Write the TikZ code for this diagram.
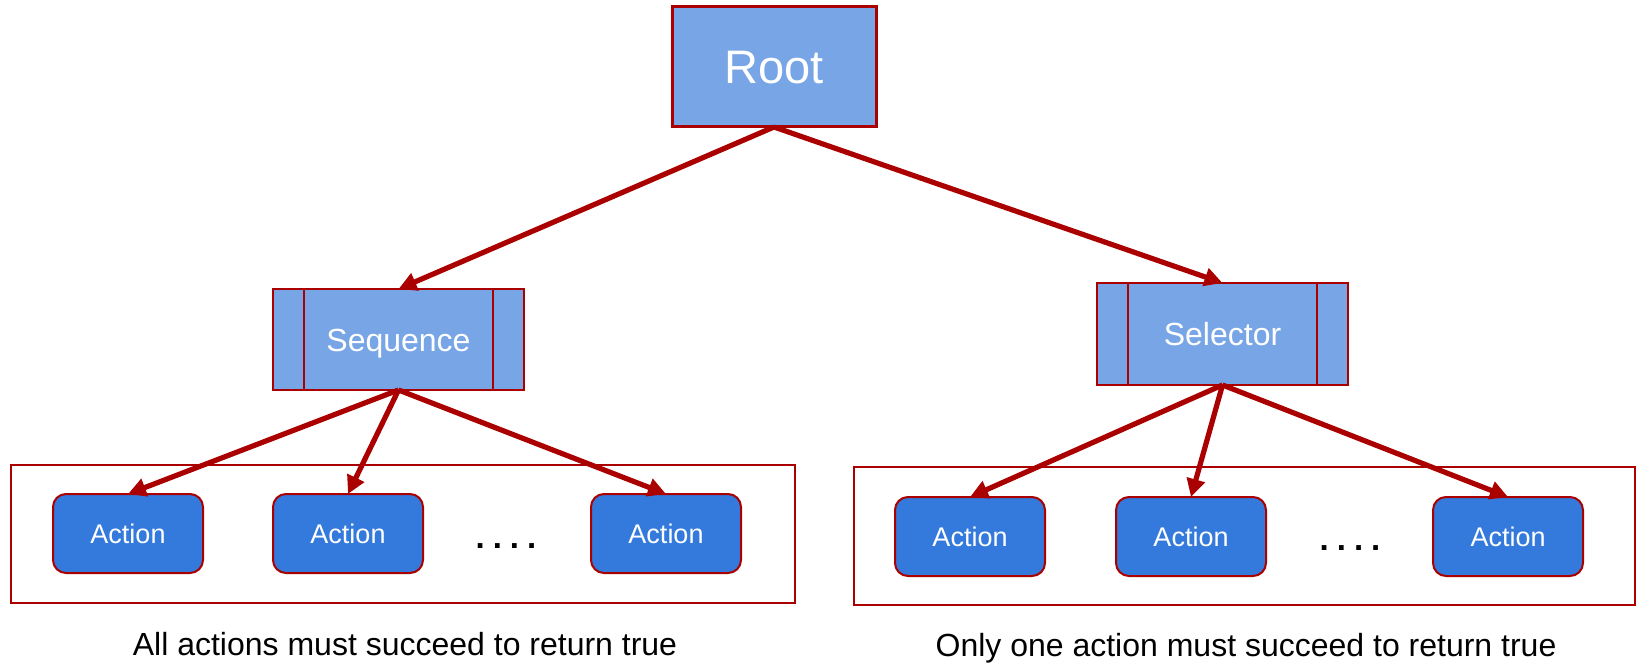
\documentclass[tikz,border=0pt]{standalone}
\usepackage{fontspec}
\setmainfont{Liberation Sans}
\usetikzlibrary{arrows.meta}
\definecolor{linkred}{RGB}{170,0,0}
\definecolor{compfill}{RGB}{120,165,230}
\definecolor{actfill}{RGB}{51,122,220}
\begin{document}
\begin{tikzpicture}[x=1pt,y=-1pt,
  composite/.style={draw=linkred, fill=compfill, line width=2pt, inner sep=0pt, outer sep=0pt,
    minimum width=251pt, minimum height=101pt, text=white,
    font=\fontsize{32}{36}\selectfont, text height=23pt, text depth=0pt},
  rootbox/.style={composite, line width=3pt, minimum width=204pt, minimum height=120pt,
    font=\fontsize{47}{52}\selectfont, text height=34pt},
  actionbox/.style={draw=linkred, fill=actfill, line width=2pt, rounded corners=13pt,
    inner sep=0pt, outer sep=0pt, minimum width=150pt, minimum height=79pt, text=white,
    font=\fontsize{27}{30}\selectfont, text height=19.5pt, text depth=0pt},
  groupbox/.style={draw=linkred, line width=2pt, inner sep=0pt, outer sep=0pt},
  link/.style={draw=linkred, line width=5.2pt, -{Triangle[length=18pt,width=18pt]}},
  caption/.style={anchor=base, font=\fontsize{32}{36}\selectfont},
  dotsfont/.style={font=\fontsize{33}{36}\selectfont\bfseries}
]
\useasboundingbox (0,0) rectangle (1637,663);
\fill[white] (0,0) rectangle (1637,663);

% group frames
\node[groupbox, minimum width=784pt, minimum height=138pt] (leftgroup) at (403,534) {};
\node[groupbox, minimum width=781pt, minimum height=138pt] (rightgroup) at (1244.5,536) {};

% root and composite nodes
\node[rootbox] (root) at (774,67) {Root};
\node[composite] (seq) at (398.5,339.5) {Sequence};
\node[composite, minimum height=102pt] (sel) at (1222.5,334) {Selector};

% side bars of the composite nodes
\foreach \n in {seq,sel}{
  \draw[linkred, line width=2pt] ([xshift=31pt]\n.north west) -- ([xshift=31pt]\n.south west);
  \draw[linkred, line width=2pt] ([xshift=-31pt]\n.north east) -- ([xshift=-31pt]\n.south east);
}

% leaf actions
\node[actionbox] (a1) at (128,533.5) {Action};
\node[actionbox] (a2) at (348,533.5) {Action};
\node[actionbox] (a3) at (666,533.5) {Action};
\node[actionbox] (b1) at (970,536.5) {Action};
\node[actionbox] (b2) at (1191,536.5) {Action};
\node[actionbox] (b3) at (1508,536.5) {Action};

\node[dotsfont, anchor=base] (ldots) at (506,548) {.\hspace{8pt}.\hspace{8pt}.\hspace{8pt}.};
\node[dotsfont, anchor=base] (rdots) at (1350,550) {.\hspace{8pt}.\hspace{8pt}.\hspace{8pt}.};

% connectors
\draw[link] (root.south) -- (seq.north);
\draw[link] (root.south) -- (sel.north);
\foreach \t in {a1,a2,a3} \draw[link] (seq.south) -- (\t.north);
\foreach \t in {b1,b2,b3} \draw[link] (sel.south) -- (\t.north);

% captions
\node[caption] (lcap) at (405,655) {All actions must succeed to return true};
\node[caption] (rcap) at (1246,656) {Only one action must succeed to return true};
\end{tikzpicture}
\end{document}
